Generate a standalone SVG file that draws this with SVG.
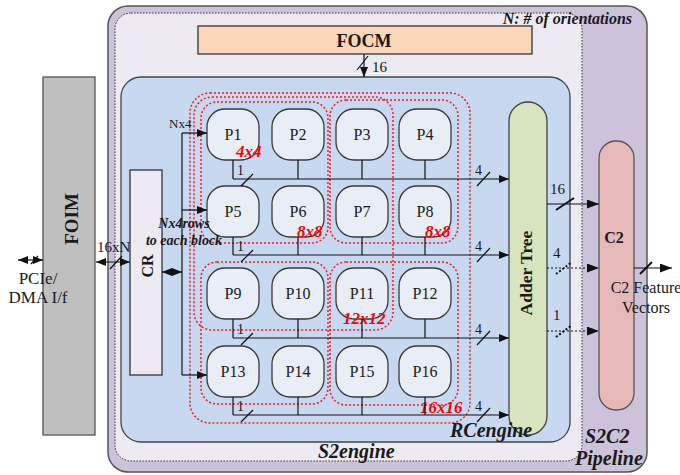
<svg xmlns="http://www.w3.org/2000/svg" width="680" height="475" viewBox="0 0 680 475">
<defs>
<marker id="ah" viewBox="0 0 10 8" refX="10" refY="4" markerWidth="10" markerHeight="8" markerUnits="userSpaceOnUse" orient="auto-start-reverse"><path d="M0,0 L10,4 L0,8 z" fill="#111"/></marker>
<marker id="ahb" viewBox="0 0 12 9" refX="12" refY="4.5" markerWidth="12" markerHeight="9" markerUnits="userSpaceOnUse" orient="auto-start-reverse"><path d="M0,0 L12,4.5 L0,9 z" fill="#111"/></marker>
</defs>
<style>
.t{font-family:"Liberation Serif","Times New Roman",serif;fill:#1a1a1a}
.b{font-weight:bold}
.i{font-style:italic}
.m{text-anchor:middle}
.red{font-family:"Liberation Serif","Times New Roman",serif;fill:#ff0000;font-weight:bold;font-style:italic;font-size:17px}
.pe rect{fill:#e9edf5;stroke:#3a3a3a;stroke-width:1.3}
.pe text{font-family:"Liberation Serif","Times New Roman",serif;font-size:16px;text-anchor:middle;fill:#1a1a1a}
.rd{fill:none;stroke:#ff1a1a;stroke-width:1.5;stroke-dasharray:2 2}
.ln{stroke:#111;stroke-width:1.2;fill:none}
.ar{marker-end:url(#ah)}
.arb{marker-end:url(#ahb)}
.dbl{marker-start:url(#ah);marker-end:url(#ah)}
.dt{stroke-dasharray:2 2}
.sl{stroke:#111;stroke-width:1.2}
.slb{stroke:#111;stroke-width:2}
</style>

<g id="s2c2">
<rect x="108" y="6" width="539" height="466" rx="20" fill="#ccc2da" stroke="#555" stroke-width="1.5"/>
</g>
<g id="s2engine">
<rect x="115" y="13" width="467" height="448" rx="16" fill="#edeaf2" stroke="#333" stroke-width="1" stroke-dasharray="1.5 1.5"/>
</g>
<g id="rcengine">
<rect x="121" y="77" width="449" height="365" rx="20" fill="#c6d9f0" stroke="#444" stroke-width="1.3"/>
</g>
<g id="focm">
<rect x="198" y="26" width="334" height="28" fill="#fbd6b8" stroke="#333" stroke-width="1.3"/>
<text class="t b m" x="364" y="47" font-size="18">FOCM</text>
</g>
<g id="foim">
<rect x="43" y="77" width="52" height="358" fill="#bfbfbf" stroke="#555" stroke-width="1.3"/>
<text class="t b m" transform="translate(78,219) rotate(-90)" font-size="19">FOIM</text>
</g>
<g id="cr">
<rect x="130" y="170" width="32" height="205" fill="#edeaf2" stroke="#333" stroke-width="1.3"/>
<text class="t b m" transform="translate(153,266) rotate(-90)" font-size="16">CR</text>
</g>
<g id="adder">
<rect x="509" y="102" width="38" height="333" rx="19" fill="#d7e4bd" stroke="#444" stroke-width="1.3"/>
<text class="t b m" transform="translate(532,273) rotate(-90)" font-size="17.5">Adder Tree</text>
</g>
<g id="c2">
<rect x="599" y="141" width="35" height="269" rx="17" fill="#e6b9b8" stroke="#555" stroke-width="1.3"/>
<text class="t b m" x="614" y="243" font-size="16">C2</text>
</g>

<g class="pe">
<g id="p1"><rect x="207" y="109" width="52" height="51" rx="18"/><text x="233" y="140">P1</text></g>
<g id="p2"><rect x="272" y="109" width="52" height="51" rx="18"/><text x="298" y="140">P2</text></g>
<g id="p3"><rect x="336" y="109" width="52" height="51" rx="18"/><text x="362" y="140">P3</text></g>
<g id="p4"><rect x="399" y="109" width="52" height="51" rx="18"/><text x="425" y="140">P4</text></g>
<g id="p5"><rect x="207" y="186" width="52" height="51" rx="18"/><text x="233" y="217">P5</text></g>
<g id="p6"><rect x="272" y="186" width="52" height="51" rx="18"/><text x="298" y="217">P6</text></g>
<g id="p7"><rect x="336" y="186" width="52" height="51" rx="18"/><text x="362" y="217">P7</text></g>
<g id="p8"><rect x="399" y="186" width="52" height="51" rx="18"/><text x="425" y="217">P8</text></g>
<g id="p9"><rect x="207" y="268" width="52" height="51" rx="18"/><text x="233" y="299">P9</text></g>
<g id="p10"><rect x="272" y="268" width="52" height="51" rx="18"/><text x="298" y="299">P10</text></g>
<g id="p11"><rect x="336" y="268" width="52" height="51" rx="18"/><text x="362" y="299">P11</text></g>
<g id="p12"><rect x="399" y="268" width="52" height="51" rx="18"/><text x="425" y="299">P12</text></g>
<g id="p13"><rect x="207" y="346" width="52" height="51" rx="18"/><text x="233" y="377">P13</text></g>
<g id="p14"><rect x="272" y="346" width="52" height="51" rx="18"/><text x="298" y="377">P14</text></g>
<g id="p15"><rect x="336" y="346" width="52" height="51" rx="18"/><text x="362" y="377">P15</text></g>
<g id="p16"><rect x="399" y="346" width="52" height="51" rx="18"/><text x="425" y="377">P16</text></g>
</g>

<g id="regions">
<rect class="rd" x="201" y="102" width="127" height="141" rx="16"/>
<rect class="rd" x="330" y="100" width="128" height="143" rx="16"/>
<rect class="rd" x="201" y="262" width="127" height="142" rx="16"/>
<rect class="rd" x="330" y="262" width="128" height="143" rx="16"/>
<rect class="rd" x="194" y="97" width="199" height="233" rx="18"/>
<rect class="rd" x="190" y="93" width="280" height="330" rx="20"/>
<text class="red" x="236" y="157">4x4</text>
<text class="red" x="297" y="237">8x8</text>
<text class="red" x="425" y="237">8x8</text>
<text class="red" x="343" y="324">12x12</text>
<text class="red" x="420" y="413">16x16</text>
</g>

<g id="connectors">
<line class="ln ar" x1="364" y1="54" x2="364" y2="77"/>
<line class="sl" x1="357" y1="70" x2="368" y2="56"/>
<line class="ln dbl" x1="18" y1="260" x2="43" y2="260"/>
<line class="sl" x1="31" y1="264" x2="38" y2="256"/>
<line class="ln dbl" x1="96" y1="262" x2="130" y2="262"/>
<line class="sl" x1="110" y1="269" x2="122" y2="256"/>
<line class="ln dbl" x1="162" y1="272" x2="182" y2="272"/>
<line class="ln" x1="182" y1="133" x2="182" y2="375"/>
<line class="ln ar" x1="182" y1="133" x2="207" y2="133"/>
<line class="ln ar" x1="182" y1="210" x2="207" y2="210"/>
<line class="ln ar" x1="182" y1="375" x2="207" y2="375"/>
<path class="ln" d="M233,160V179M298,160V179M362,160V179M425,160V179"/>
<line class="ln ar" x1="233" y1="179" x2="509" y2="179"/>
<line class="sl" x1="241" y1="186" x2="253" y2="174"/>
<line class="sl" x1="477" y1="186" x2="490" y2="172"/>
<path class="ln" d="M233,237V255M298,237V255M362,237V255M425,237V255"/>
<line class="ln ar" x1="233" y1="255" x2="509" y2="255"/>
<line class="sl" x1="241" y1="262" x2="253" y2="250"/>
<line class="sl" x1="477" y1="262" x2="490" y2="248"/>
<path class="ln" d="M233,319V338M298,319V338M362,319V338M425,319V338"/>
<line class="ln ar" x1="233" y1="338" x2="509" y2="338"/>
<line class="sl" x1="241" y1="345" x2="253" y2="333"/>
<line class="sl" x1="477" y1="345" x2="490" y2="331"/>
<path class="ln" d="M233,397V415M298,397V415M362,397V415M425,397V415"/>
<line class="ln ar" x1="233" y1="415" x2="509" y2="415"/>
<line class="sl" x1="241" y1="422" x2="253" y2="410"/>
<line class="sl" x1="477" y1="422" x2="490" y2="408"/>
<line class="ln arb" x1="547" y1="204" x2="599" y2="204"/>
<line class="slb" x1="556" y1="210" x2="574" y2="198"/>
<line class="ln dt arb" x1="547" y1="268" x2="599" y2="268"/>
<line class="slb dt" x1="556" y1="274" x2="572" y2="262"/>
<line class="ln dt arb" x1="547" y1="331" x2="599" y2="331"/>
<line class="slb dt" x1="556" y1="337" x2="572" y2="325"/>
<line class="ln arb" x1="634" y1="268" x2="672" y2="268"/>
<line class="slb" x1="640" y1="274" x2="652" y2="262"/>
</g>

<g id="labels">
<text class="t b i" x="632" y="24" font-size="16" text-anchor="end">N: # of orientations</text>
<text class="t" x="372" y="72" font-size="15">16</text>
<text class="t" x="169" y="128" font-size="13">Nx4</text>
<text class="t b i m" x="184" y="228" font-size="14">Nx4rows</text>
<text class="t b i m" x="184" y="245" font-size="14">to each block</text>
<text class="t" x="97" y="252" font-size="15">16xN</text>
<text class="t m" x="38" y="284" font-size="17" fill="#333">PCIe/</text>
<text class="t m" x="38" y="303" font-size="17" fill="#333">DMA I/f</text>
<text class="t" x="237" y="175" font-size="14">1</text>
<text class="t" x="237" y="251" font-size="14">1</text>
<text class="t" x="237" y="334" font-size="14">1</text>
<text class="t" x="237" y="411" font-size="14">1</text>
<text class="t" x="475" y="175" font-size="14">4</text>
<text class="t" x="475" y="251" font-size="14">4</text>
<text class="t" x="475" y="334" font-size="14">4</text>
<text class="t" x="475" y="411" font-size="14">4</text>
<text class="t" x="550" y="194" font-size="15">16</text>
<text class="t" x="553" y="258" font-size="15">4</text>
<text class="t" x="553" y="320" font-size="15">1</text>
<text class="t m" x="646" y="293" font-size="16" fill="#333">C2 Feature</text>
<text class="t m" x="646" y="313" font-size="16" fill="#333">Vectors</text>
<text class="t b i" x="318" y="458" font-size="20">S2engine</text>
<text class="t b i" x="450" y="437" font-size="20">RCengine</text>
<text class="t b i" x="585" y="443" font-size="20">S2C2</text>
<text class="t b i" x="575" y="465" font-size="20">Pipeline</text>
</g>
</svg>
